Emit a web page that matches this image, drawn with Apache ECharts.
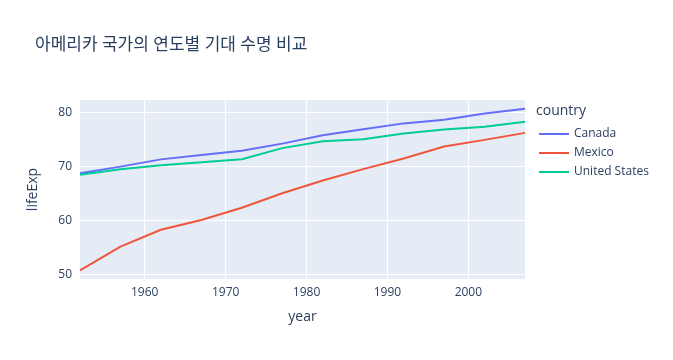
<!DOCTYPE html>
<html><head><meta charset="utf-8">
<script src="https://cdn.jsdelivr.net/npm/echarts@6/dist/echarts.min.js"></script>
<style>html,body{margin:0;padding:0;background:#fff}#c{width:673px;height:360px}</style>
</head><body><div id="c"></div>
<script>
const years = [1952,1957,1962,1967,1972,1977,1982,1987,1992,1997,2002,2007];
const canada = [68.75,69.96,71.3,72.13,72.88,74.21,75.76,76.86,77.95,78.61,79.77,80.653];
const mexico = [50.789,55.19,58.299,60.11,62.361,65.032,67.405,69.498,71.455,73.67,74.902,76.195];
const usa = [68.44,69.49,70.21,70.76,71.34,73.38,74.65,75.02,76.09,76.81,77.31,78.242];
const xTicks = [1960,1970,1980,1990,2000];
const yTicks = [50,60,70,80];
const names = ['Canada','Mexico','United States'];
const colors = ['#636EFA','#EF553B','#00CC96'];
const FONT = '"Open Sans", "Noto Sans CJK KR", sans-serif';
const chart = echarts.init(document.getElementById('c'));
const mk = (name, vals, color) => ({
  name, type:'line', data: years.map((y,i)=>[y, vals[i]]), showSymbol:false, symbol:'none',
  lineStyle:{width:2,color}, itemStyle:{color}, animation:false, clip:true
});
chart.setOption({
  animation:false,
  textStyle:{fontFamily:FONT},
  title:{text:'아메리카 국가의 연도별 기대 수명 비교', left:30, top:32,
    textStyle:{fontSize:17, fontWeight:'normal', color:'#2a3f5f', fontFamily:FONT}},
  grid:{left:80, right:148, top:100, bottom:81, show:true, backgroundColor:'#E5ECF6', borderWidth:0},
  xAxis:{type:'value', min:1952, max:2007, name:'year', nameLocation:'middle', nameGap:31,
    nameTextStyle:{fontSize:14,color:'#2a3f5f'},
    axisLine:{show:false}, axisTick:{show:false, customValues:xTicks},
    axisLabel:{customValues:xTicks, color:'#2a3f5f', fontSize:12, margin:8, formatter:v=>String(v)},
    splitLine:{show:true, lineStyle:{color:'#fff', width:1}}},
  yAxis:{type:'value', min:49.2, max:82.27, name:'lifeExp', nameLocation:'middle', nameGap:40,
    nameTextStyle:{fontSize:14,color:'#2a3f5f'},
    axisLine:{show:false}, axisTick:{show:false, customValues:yTicks},
    axisLabel:{customValues:yTicks, color:'#2a3f5f', fontSize:12, margin:8},
    splitLine:{show:true, lineStyle:{color:'#fff', width:1}}},
  legend:{orient:'vertical', left:534, top:123, itemWidth:30, itemHeight:2, itemGap:7,
    icon:'rect', textStyle:{fontSize:12,color:'#2a3f5f',fontFamily:FONT}, data:names},
  graphic:[{type:'text', left:536, top:104, style:{text:'country', fontSize:14, fill:'#2a3f5f', fontFamily:FONT}}],
  series:[mk(names[0],canada,colors[0]), mk(names[1],mexico,colors[1]), mk(names[2],usa,colors[2])]
});
</script></body></html>
